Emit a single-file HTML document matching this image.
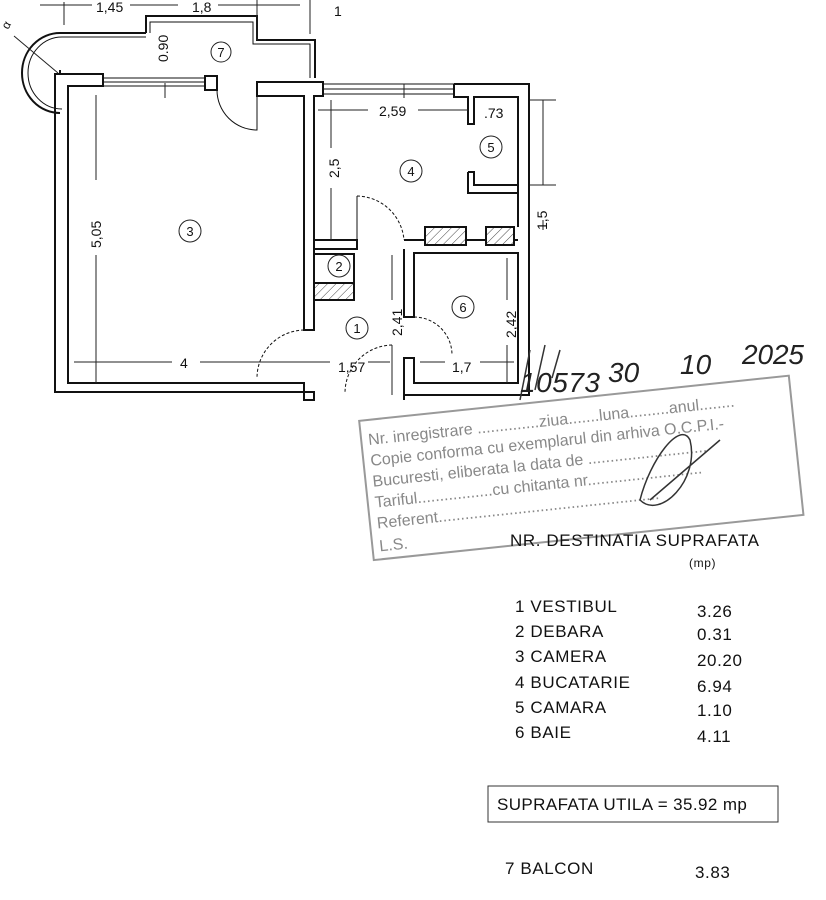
<!DOCTYPE html>
<html><head><meta charset="utf-8"><style>
html,body{margin:0;padding:0;background:#fff}
svg{display:block}
text{font-family:"Liberation Sans",sans-serif}
</style></head><body>
<svg width="826" height="900" viewBox="0 0 826 900" xmlns="http://www.w3.org/2000/svg">
<defs>
<pattern id="h" width="6" height="6" patternUnits="userSpaceOnUse" patternTransform="rotate(45)">
<rect width="6" height="6" fill="#fff"/><line x1="0" y1="0" x2="0" y2="6" stroke="#444" stroke-width="1"/>
</pattern>
</defs>
<g fill="none" stroke="#111" stroke-width="2">
<path d="M60 75 L60 70 M146 33 L146 16 L257 16 L257 40 L315 40 L315 78"/>
<path d="M150 33 L150 22 L253 22 L253 44 L310 44 L310 78" stroke-width="1"/>
<path d="M146 33 L60 33 A38 40 0 0 0 60 113" />
<path d="M146 37 L62 37 A34 36 0 0 0 62 109" stroke-width="1"/>
<path d="M60 74 L103 74 L103 86 L68 86 L68 383 L304 383 L304 400 L314 400 L314 392 L55 392 L55 74 Z"/>
<path d="M103 78 L205 78 M103 82 L205 82 M103 86 L205 86" stroke-width="1"/>
<rect x="205" y="76" width="12" height="14"/>
<path d="M217 90 A40 40 0 0 0 257 130 L257 90" stroke-width="1"/>
<path d="M257 82 L323 82 L323 96 L314 96 L314 330 L304 330 L304 96 L257 96 Z"/>
<path d="M323 84 L454 84 M323 89 L454 89 M323 94 L454 94" stroke-width="1"/>
<path d="M454 84 L529 84 L529 395 L404 395 M454 84 L454 97 L468 97 L468 124 L474 124 L474 97 L518 97 L518 227"/>
<path d="M468 172 L474 172 L474 185 L518 185"/>
<path d="M468 172 L468 193 L518 193"/>
<path d="M314 240 L357 240 L357 249 L314 249 M314 254 L354 254 L354 300 L314 300"/>
<rect x="314" y="283" width="40" height="17" fill="url(#h)"/>
<path d="M404 240 L518 240 M404 249 L404 317 L414 317 L414 253 L518 253 L518 383 L414 383 L414 358 L404 358 L404 400"/>
<rect x="425" y="227" width="41" height="18" fill="url(#h)"/>
<rect x="486" y="227" width="28" height="18" fill="url(#h)"/>
<path d="M357 196 A48 48 0 0 1 404 240" stroke-width="1" stroke-dasharray="3 2"/>
<path d="M357 196 L357 240" stroke-width="1"/>
<path d="M414 317 A38 38 0 0 1 452 355" stroke-width="1" stroke-dasharray="3 2"/>
<path d="M304 330 A48 48 0 0 0 257 378" stroke-width="1" stroke-dasharray="3 2"/>
<path d="M392 345 A48 48 0 0 0 345 393" stroke-width="1" stroke-dasharray="3 2"/>
</g>
<g stroke="#222" stroke-width="1" fill="none">
<path d="M40 5 L92 5 M130 5 L178 5 M218 5 L255 5 M240 5 L300 5 M64 2 L64 25 M257 0 L257 40 M310 0 L310 34"/>
<path d="M96 95 L96 180 M96 255 L96 383"/>
<path d="M74 362 L172 362 M200 362 L300 362 M300 362 L330 362 M368 362 L390 362 M420 362 L445 362 M480 362 L514 362"/>
<path d="M331 100 L331 148 M331 188 L331 240 M318 110 L368 110 M418 110 L468 110"/>
<path d="M392 255 L392 300 M392 345 L392 395 M507 258 L507 300 M507 345 L507 383"/>
<path d="M543 100 L543 185 M543 220 L543 230 M530 100 L556 100 M530 185 L556 185"/>
<path d="M165 83 L165 98 M14 36 L58 73 M404 84 L404 98"/>
</g>
<g font-size="14" fill="#111">
<text x="96" y="12">1,45</text><text x="192" y="12">1,8</text><text x="334" y="16">1</text>
<text x="8" y="30" transform="rotate(-60 8 30)" font-size="12">α</text>
<text x="168" y="62" transform="rotate(-90 168 62)">0.90</text>
<text x="101" y="248" transform="rotate(-90 101 248)">5,05</text>
<text x="180" y="368">4</text>
<text x="338" y="372">1,57</text>
<text x="452" y="372">1,7</text>
<text x="379" y="116">2,59</text>
<text x="484" y="118">.73</text>
<text x="339" y="178" transform="rotate(-90 339 178)">2,5</text>
<text x="402" y="336" transform="rotate(-90 402 336)">2,41</text>
<text x="516" y="338" transform="rotate(-90 516 338)">2,42</text>
<text x="547" y="230" transform="rotate(-90 547 230)">1,5</text>
</g>
<g fill="none" stroke="#222" stroke-width="1">
<circle cx="221" cy="52" r="10"/><circle cx="190" cy="231" r="11"/><circle cx="411" cy="171" r="11"/>
<circle cx="491" cy="147" r="11"/><circle cx="339" cy="266" r="11"/><circle cx="463" cy="307" r="11"/><circle cx="357" cy="328" r="11"/>
</g>
<g font-size="13" fill="#111" text-anchor="middle">
<text x="221" y="57">7</text><text x="190" y="236">3</text><text x="411" y="176">4</text><text x="491" y="152">5</text>
<text x="339" y="271">2</text><text x="463" y="312">6</text><text x="357" y="333">1</text>
</g>
<g transform="rotate(-6 580 465)" fill="#888" font-size="16">
<rect x="365" y="398" width="432" height="140" fill="none" stroke="#999" stroke-width="2"/>
<text x="372" y="423">Nr. inregistrare ..............ziua.......luna.........anul........</text>
<text x="372" y="444">Copie conforma cu exemplarul din arhiva O.C.P.I.-</text>
<text x="372" y="465">Bucuresti, eliberata la data de ...........................</text>
<text x="372" y="486">Tariful.................cu chitanta nr..........................</text>
<text x="372" y="507">Referent..................................................</text>
<text x="372" y="530">L.S.</text>
</g>
<g fill="none" stroke="#333" stroke-width="1.5">
<path d="M520 400 L530 350 M535 390 L545 345 M552 378 L560 350 M640 500 C650 460 680 420 690 440 C700 480 660 520 640 500 M650 500 L720 440"/>
</g>
<g font-size="28" fill="#222" font-style="italic"><text x="520" y="392" textLength="80">10573</text><text x="608" y="382">30</text><text x="680" y="374">10</text><text x="742" y="364" textLength="62">2025</text></g>
<g fill="#111" font-size="17" letter-spacing="0.6">
<text x="510" y="546">NR. DESTINATIA  SUPRAFATA</text>
<text x="689" y="567" font-size="12">(mp)</text>
<text x="515" y="612">1  VESTIBUL</text><text x="697" y="617">3.26</text>
<text x="515" y="637">2  DEBARA</text><text x="697" y="640">0.31</text>
<text x="515" y="662">3  CAMERA</text><text x="697" y="666">20.20</text>
<text x="515" y="688">4  BUCATARIE</text><text x="697" y="692">6.94</text>
<text x="515" y="713">5  CAMARA</text><text x="697" y="716">1.10</text>
<text x="515" y="738">6  BAIE</text><text x="697" y="742">4.11</text>
<rect x="488" y="786" width="290" height="36" fill="none" stroke="#333" stroke-width="1"/>
<text x="497" y="810" letter-spacing="0.4">SUPRAFATA UTILA = 35.92 mp</text>
<text x="505" y="874">7  BALCON</text><text x="695" y="878">3.83</text>
</g>
</svg>
</body></html>
